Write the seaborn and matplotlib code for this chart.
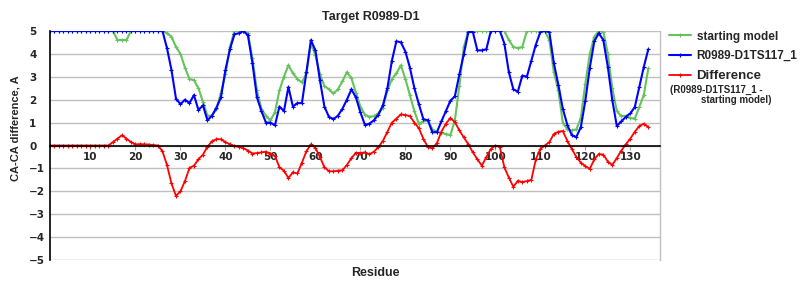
import numpy as np
import pandas as pd
import seaborn as sns
import matplotlib
matplotlib.use("Agg")
import matplotlib.pyplot as plt

# ---------------- data ----------------
residues = list(range(1, 135))

starting_model = [
    5, 5, 5, 5, 5, 5, 5, 5, 5, 5,
    5, 5, 5, 5, 5, 4.6, 4.6, 4.6, 5, 5,
    5, 5, 5, 5, 5, 5, 4.9, 4.75, 4.3, 4.0,
    3.4, 2.9, 2.85, 2.5, 1.9, 1.3, 1.3, 1.6, 2.3, 3.1,
    4.3, 5.0, 5.0, 5.0, 4.9, 3.8, 2.4, 1.6, 1.3, 1.1,
    1.45, 2.4, 3.0, 3.5, 3.15, 2.9, 2.75, 3.15, 4.45, 3.95,
    3.1, 2.6, 2.45, 2.27, 2.45, 2.8, 3.2, 2.95, 2.3, 1.7,
    1.35, 1.25, 1.28, 1.4, 1.65, 2.4, 2.9, 3.15, 3.5, 2.9,
    2.2, 1.5, 0.95, 1.05, 1.1, 0.7, 0.6, 0.55, 0.5, 0.45,
    1.1, 2.6, 4.3, 5, 5, 5, 5, 5, 5, 5,
    5, 5, 4.6, 4.3, 4.25, 4.3, 5, 5, 5, 5,
    5, 4.6, 3.2, 2.4, 1.0, 0.7, 0.66, 0.7, 1.2, 2.7,
    4.0, 4.75, 5.0, 4.97, 4.0, 2.5, 1.5, 1.28, 1.3, 1.2,
    1.17, 1.68, 2.2, 3.36,
]

model_ts117 = [
    5, 5, 5, 5, 5, 5, 5, 5, 5, 5,
    5, 5, 5, 5, 5, 5, 5, 5, 5, 5,
    5, 5, 5, 5, 5, 5, 4.25, 3.3, 2.05, 1.8,
    2.0, 1.85, 2.2, 1.55, 1.75, 1.1, 1.3, 1.65, 2.1, 3.3,
    4.2, 4.85, 4.9, 5.0, 4.8, 3.6, 2.1, 1.5, 1.0, 1.0,
    0.88, 1.7, 1.5, 2.55, 1.7, 1.85, 1.85, 3.2, 4.6, 4.15,
    2.85, 1.7, 1.25, 1.15, 1.3, 1.6, 2.0, 2.45, 2.1, 1.45,
    0.9, 0.95, 1.1, 1.35, 1.75, 2.5, 3.7, 4.55, 4.5, 4.1,
    3.4, 2.5, 1.8, 1.15, 1.1, 0.58, 0.58, 1.05, 1.5, 1.95,
    2.15, 3.1, 4.0, 4.95, 4.95, 4.15, 4.15, 4.2, 5.0, 5.0,
    5.0, 4.45, 3.2, 2.45, 2.35, 3.05, 3.0, 3.7, 4.4, 4.95,
    5.0, 4.95, 3.6, 2.65, 1.6, 0.9, 0.45, 0.37, 0.8, 1.95,
    3.4, 4.55, 4.9, 4.6, 3.43, 1.97, 0.85, 1.05, 1.25, 1.4,
    1.68, 2.56, 3.43, 4.2,
]

difference = [
    0, 0, 0, 0, 0, 0, 0, 0, 0, 0,
    0, 0, 0, 0, 0.15, 0.3, 0.45, 0.3, 0.15, 0.05,
    0.06, 0.05, 0.04, 0.02, 0.0, -0.25, -0.85, -1.65, -2.2, -2.0,
    -1.55, -0.98, -0.88, -0.6, -0.4, -0.05, 0.18, 0.28, 0.27, 0.15,
    0.05, -0.02, -0.06, -0.12, -0.22, -0.35, -0.33, -0.3, -0.27, -0.35,
    -0.45, -0.95, -1.1, -1.42, -1.17, -1.22, -0.75, -0.25, 0.05, -0.1,
    -0.5, -0.95, -1.12, -1.13, -1.1, -1.08, -0.85, -0.55, -0.32, -0.33,
    -0.3, -0.38, -0.27, -0.07, 0.2, 0.6, 1.0, 1.17, 1.36, 1.33,
    1.28, 1.0, 0.75, 0.29, -0.07, -0.12, 0.1, 0.6, 0.95, 1.2,
    1.02, 0.66, 0.35, 0.05, -0.3, -0.6, -0.88, -0.5, -0.15, 0.0,
    -0.07, -0.95, -1.4, -1.8, -1.54, -1.6, -1.55, -1.5, -0.6, -0.15,
    0.0, 0.15, 0.5, 0.6, 0.63, 0.2, -0.15, -0.5, -0.75, -0.9,
    -1.02, -0.6, -0.37, -0.4, -0.7, -0.85, -0.55, -0.22, 0.05, 0.3,
    0.6, 0.85, 0.95, 0.8,
]

series_names = ["starting model", "R0989-D1TS117_1", "Difference"]
series_colors = ["#66C35A", "#0000FF", "#FF0000"]
x_ticks = [10, 20, 30, 40, 50, 60, 70, 80, 90, 100, 110, 120, 130]
y_ticks = [5, 4, 3, 2, 1, 0, -1, -2, -3, -4, -5]

# ---------------- style ----------------
sns.set_style("white")
plt.rcParams["font.family"] = ["Liberation Sans", "DejaVu Sans"]

fig = plt.figure(figsize=(8, 3), dpi=100)
ax = fig.add_axes([0.0625, 0.133, 0.7625, 0.764])

df = pd.DataFrame({
    "Residue": residues * 3,
    "value": starting_model + model_ts117 + difference,
    "series": [series_names[0]] * len(residues)
    + [series_names[1]] * len(residues)
    + [series_names[2]] * len(residues),
})

for name, color, lw in zip(series_names, series_colors, [1.5, 1.5, 1.3]):
    sub = df[df["series"] == name]
    sns.lineplot(data=sub, x="Residue", y="value", ax=ax, color=color,
                 linewidth=lw, marker="+", markersize=3, markeredgewidth=0.8,
                 markeredgecolor=color, label=name, legend=False)

ax.set_xlim(1, 136.6)
ax.set_ylim(-5, 5)

# gridlines
ax.set_yticks(y_ticks)
ax.yaxis.grid(True, color="#C0C0C0", linewidth=1)
ax.xaxis.grid(False)
ax.set_axisbelow(True)

# spines
ax.spines["bottom"].set_position(("data", 0))
ax.spines["bottom"].set_color("black")
ax.spines["bottom"].set_linewidth(1.2)
ax.spines["left"].set_color("black")
ax.spines["left"].set_linewidth(1.2)
ax.spines["right"].set_color("#C0C0C0")
ax.spines["right"].set_linewidth(1)
ax.spines["top"].set_visible(False)

ax.set_xticks(x_ticks)
ax.set_xticklabels([str(t) for t in x_ticks], fontsize=7.5,
                   fontweight="bold", family="DejaVu Sans")
ax.tick_params(axis="x", direction="out", length=3, color="#A0A0A0",
               pad=2, bottom=True)
ax.set_yticklabels([str(t).replace("-", "\u2212") for t in y_ticks],
                   fontsize=7.5, fontweight="bold", family="DejaVu Sans")
ax.tick_params(axis="y", length=0, pad=15)
for lab in ax.get_yticklabels():
    lab.set_horizontalalignment("left")

ax.set_xlabel("Residue", fontsize=9, fontweight="bold")
ax.xaxis.set_label_coords(0.533, -0.03)
ax.set_ylabel("CA-CA difference, A", fontsize=8, fontweight="bold")
ax.yaxis.set_label_coords(-0.049, 0.576)
ax.set_title("Target R0989-D1", fontsize=9, fontweight="bold", pad=8,
             x=0.526)

handles, labels = ax.get_legend_handles_labels()
leg = fig.legend(handles, labels, loc="upper left",
                 bbox_to_anchor=(0.836, 0.898), frameon=False,
                 fontsize=8.5, handlelength=1.9, handletextpad=0.45,
                 labelspacing=0.65, borderpad=0, borderaxespad=0)
for t in leg.get_texts():
    t.set_fontweight("bold")
leg.get_texts()[2].set_fontsize(9.5)

fig.text(0.8375, 0.7, "(R0989-D1TS117_1 -", fontsize=7, fontweight="bold",
         va="center", ha="left")
fig.text(0.876, 0.667, "starting model)", fontsize=7, fontweight="bold",
         va="center", ha="left")

fig.savefig("out.png", dpi=100)
